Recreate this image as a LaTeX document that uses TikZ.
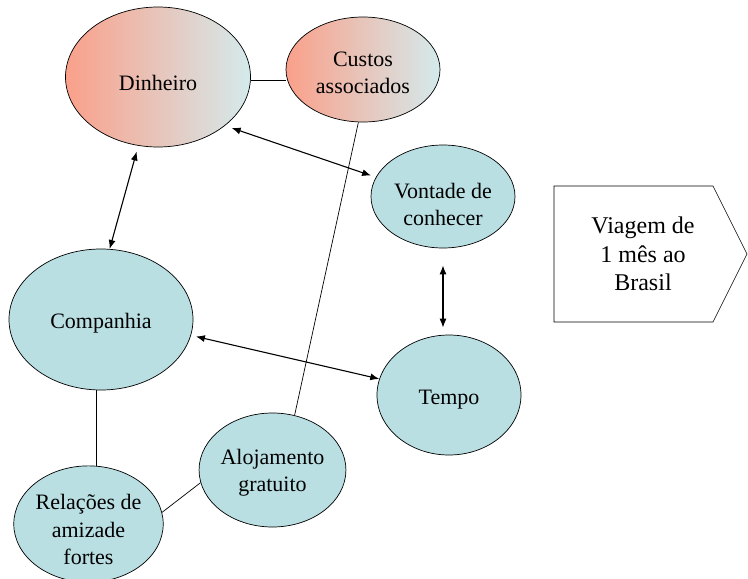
\documentclass[tikz,border=0pt]{standalone}
\usepackage{fontspec}
\setmainfont{Liberation Serif}
\usetikzlibrary{shapes.geometric,arrows.meta}
\definecolor{balao}{RGB}{185,223,227}
\definecolor{salmao}{RGB}{250,160,138}
\definecolor{claro}{RGB}{212,234,236}
\tikzset{
  bolha/.style={ellipse,draw,line width=0.7pt,fill=balao,inner sep=0pt,
    align=center,font=\fontsize{22}{27.5}\selectfont},
  custo/.style={bolha,left color=salmao,right color=claro},
  desce/.style={execute at begin node={\rule{0pt}{#1}}}, % baixa o texto
  liga/.style={<->,>={Latex[length=9pt,width=7pt]},line width=1.1pt},
}

\begin{document}
\begin{tikzpicture}[x=1pt,y=-1pt] % y para baixo, como na imagem
\useasboundingbox (0,0) rectangle (748,579);

% fatores ligados ao dinheiro
\node[custo,desce=28pt,minimum width=185pt,minimum height=140pt] (dinheiro) at (158,77) {Dinheiro};
\node[custo,desce=48.5pt,minimum width=154pt,minimum height=105pt] (custos) at (363,69.5) {Custos\\associados};
% restantes fatores
\node[bolha,desce=58.5pt,minimum width=144pt,minimum height=103pt] (vontade) at (443,196.5) {Vontade de\\conhecer};
\node[bolha,desce=23pt,minimum width=184pt,minimum height=141pt] (companhia) at (101,319.5) {Companhia};
\node[bolha,desce=23pt,minimum width=144pt,minimum height=120pt] (tempo) at (449,395) {Tempo};
\node[bolha,desce=48.5pt,minimum width=143pt,minimum height=114pt] (alojamento) at (272.5,470) {Alojamento\\gratuito};
\node[bolha,desce=82pt,minimum width=143pt,minimum height=112pt] (relacoes) at (88.5,524) {Relações de\\amizade\\fortes};

% objetivo
\draw[line width=0.6pt] (554,186) -- (713,186) -- (747,254) -- (713,322) -- (554,322) -- cycle;
\node[font=\fontsize{24}{28.5}\selectfont,align=center] (viagem) at (643,254) {Viagem de\\1 mês ao\\Brasil};

% ligacoes simples
\draw[line width=0.7pt] (dinheiro.-2) -- (custos.west |- dinheiro.-2);
\draw[line width=0.7pt] (custos.-95) -- (alojamento.68);
\draw[line width=0.7pt] (companhia.-94) -- (companhia.-94 |- relacoes.north);
\draw[line width=0.7pt] (relacoes.9) -- (alojamento.190);

% influencias mutuas
\draw[liga,shorten <=7pt,shorten >=5pt] (dinheiro.-36) -- (vontade.164);
\draw[liga,shorten <=6pt] (dinheiro.-106) -- (companhia.83);
\draw[liga,shorten <=17pt,shorten >=7pt] (vontade.south) -- (vontade.south |- tempo.north);
\draw[liga,shorten <=5pt] (companhia.-10) -- (tempo.167);
\end{tikzpicture}
\end{document}
